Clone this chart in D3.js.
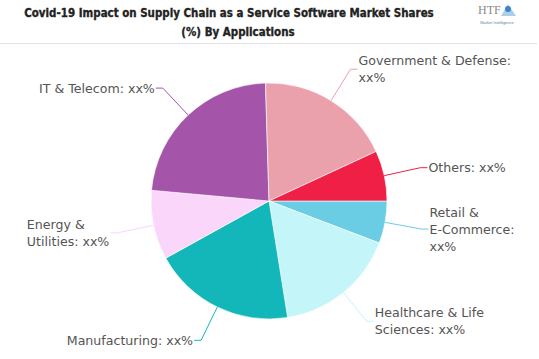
<!DOCTYPE html>
<html>
<head>
<meta charset="utf-8">
<script src="https://cdn.jsdelivr.net/npm/d3@7"></script>
<style>
  html, body { margin: 0; padding: 0; background: #fff; }
  svg { display: block; }
</style>
</head>
<body>
<svg id="chart" width="539" height="359"></svg>
<script>
const titleLines = ["Covid-19 Impact on Supply Chain as a Service Software Market Shares", "(%) By Applications"];
const categories = ["Retail & E-Commerce", "Healthcare & Life Sciences", "Manufacturing", "Energy & Utilities", "IT & Telecom", "Government & Defense", "Others"];
const shares = [5.8, 16.7, 19.5, 9.5, 23.1, 18.6, 6.9];
const valueLabels = ["xx%", "xx%", "xx%", "xx%", "xx%", "xx%", "xx%"];
const labelLines = [
  ["Retail &", "E-Commerce:", "xx%"],
  ["Healthcare & Life", "Sciences: xx%"],
  ["Manufacturing: xx%"],
  ["Energy &", "Utilities: xx%"],
  ["IT & Telecom: xx%"],
  ["Government & Defense:", "xx%"],
  ["Others: xx%"]
];
const colors = ["#6bcde4", "#c4f5f8", "#13b6b9", "#fad6fa", "#a455a9", "#eba1ac", "#ef1f45"];

const svg = d3.select("#chart");
const cx = 269, cy = 201, R = 118, labelR = 155;

// Title: fit the first line to the reference width by adjusting font size
const titleFont = "'DejaVu Sans Condensed', 'Liberation Sans Narrow', 'Arial Narrow', sans-serif";
const titleX = [229, 238];
const titleW = [410, 97];
const titleNodes = titleLines.map((t, i) => svg.append("text")
    .attr("x", titleX[i]).attr("y", 17 + i * 18.5)
    .attr("text-anchor", "middle")
    .attr("font-family", titleFont)
    .attr("font-stretch", "condensed")
    .attr("font-weight", "bold")
    .attr("font-size", 14)
    .attr("fill", "#222")
    .attr("stroke", "#222").attr("stroke-width", 0.3)
    .text(t));
const w0 = titleNodes[0].node().getComputedTextLength();
const fs = Math.min(14.5, 14 * titleW[0] / w0);
titleNodes.forEach(n => n.attr("font-size", fs));
// widen second line with letter spacing to match reference width
const w1 = titleNodes[1].node().getComputedTextLength();
const n1 = titleLines[1].length;
if (w1 < titleW[1]) titleNodes[1].attr("letter-spacing", ((titleW[1] - w1) / n1).toFixed(2));

// Separator line
svg.append("line").attr("x1", 0).attr("x2", 537).attr("y1", 43.5).attr("y2", 43.5)
  .attr("stroke", "#e2e2e2").attr("stroke-width", 1);

// Logo
const logo = svg.append("g");
logo.append("text").attr("x", 478).attr("y", 14).attr("font-family", "'Liberation Serif', serif")
  .attr("font-size", 12).attr("fill", "#8a8a8a").text("HTF");
logo.append("path").attr("d", "M501,16 L508,4 L516,16 Z").attr("fill", "#9cc6ea").attr("opacity", 0.85);
logo.append("circle").attr("cx", 508).attr("cy", 9).attr("r", 3).attr("fill", "#3d86c6");
logo.append("text").attr("x", 497).attr("y", 24).attr("text-anchor", "middle").attr("font-family", "sans-serif")
  .attr("font-size", 4).attr("fill", "#5a7fa6").text("Market Intelligence");

// Pie
const pie = d3.pie().sort(null).value(d => d).startAngle(Math.PI / 2).endAngle(Math.PI / 2 + 2 * Math.PI);
const arcs = pie(shares);
const arc = d3.arc().innerRadius(0).outerRadius(R);
const g = svg.append("g").attr("transform", `translate(${cx},${cy})`);

g.selectAll("path.slice").data(arcs).enter().append("path")
  .attr("class", "slice")
  .attr("d", arc)
  .attr("fill", (d, i) => colors[i])
  .attr("stroke", "#fff").attr("stroke-width", 0.6);

// Labels with leader lines
const pt = (a, r) => [Math.sin(a) * r, -Math.cos(a) * r];
arcs.forEach((d, i) => {
  const mid = (d.startAngle + d.endAngle) / 2;
  const p0 = pt(mid, R);
  const p1 = pt(mid, labelR);
  const right = Math.sin(mid) >= 0;
  const p2 = [p1[0] + (right ? 7 : -7), p1[1]];
  g.append("polyline")
    .attr("points", [p0, p1, p2].map(p => p.join(",")).join(" "))
    .attr("fill", "none").attr("stroke", colors[i]).attr("stroke-width", 1);
  const lines = labelLines[i];
  const lh = 17;
  const t = g.append("text")
    .attr("font-family", "'DejaVu Sans', Verdana, sans-serif")
    .attr("font-size", 12.6)
    .attr("fill", "#555")
    .attr("text-anchor", "start");
  const spans = lines.map((ln, k) => t.append("tspan")
      .attr("y", p2[1] + (k - (lines.length - 1) / 2) * lh + 4.5)
      .text(ln));
  const widths = spans.map(s => s.node().getComputedTextLength());
  const maxW = d3.max(widths);
  const x0 = right ? p2[0] + 1 : p2[0] - 1 - maxW;
  spans.forEach(s => s.attr("x", x0));
});
</script>
</body>
</html>
